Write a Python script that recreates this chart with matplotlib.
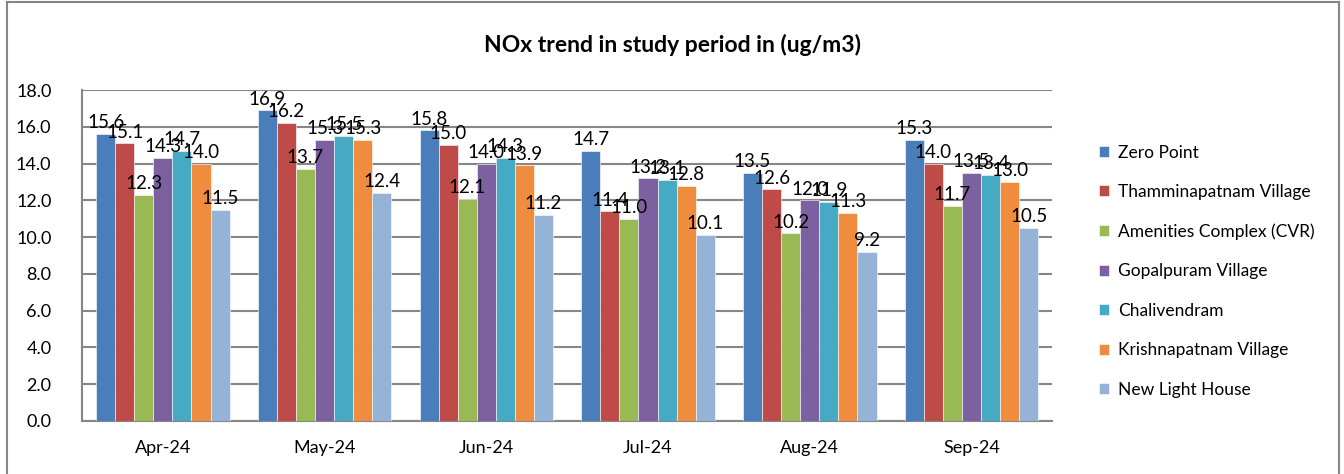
import numpy as np
import matplotlib.pyplot as plt
from matplotlib.lines import Line2D

plt.rcParams['font.family'] = ['Lato', 'DejaVu Sans']

# місяці та станції
months = ["Apr-24", "May-24", "Jun-24", "Jul-24", "Aug-24", "Sep-24"]
stations = ["Zero Point", "Thamminapatnam Village", "Amenities Complex (CVR)",
            "Gopalpuram Village", "Chalivendram", "Krishnapatnam Village",
            "New Light House"]

zero_point = [15.6, 16.9, 15.8, 14.7, 13.5, 15.3]
thamminapatnam = [15.1, 16.2, 15.0, 11.4, 12.6, 14.0]
amenities = [12.3, 13.7, 12.1, 11.0, 10.2, 11.7]
gopalpuram = [14.3, 15.3, 14.0, 13.2, 12.0, 13.5]
chalivendram = [14.7, 15.5, 14.3, 13.1, 11.9, 13.4]
krishnapatnam = [14.0, 15.3, 13.9, 12.8, 11.3, 13.0]
new_light_house = [11.5, 12.4, 11.2, 10.1, 9.2, 10.5]

series = [zero_point, thamminapatnam, amenities, gopalpuram,
          chalivendram, krishnapatnam, new_light_house]
colors = ['#4A7EBB', '#BE4B48', '#98B954', '#7D60A0', '#46AAC5', '#F08C3E', '#95B3D7']

fig = plt.figure(figsize=(13.44, 4.74), dpi=100)
ax = fig.add_axes([0.061, 0.112, 0.722, 0.698])

x = np.arange(len(months))
w = 0.118
for j, (vals, col, name) in enumerate(zip(series, colors, stations)):
    bars = ax.bar(x + (j - 3) * w, vals, width=w, color=col, label=name,
                  edgecolor='white', linewidth=0.4, zorder=3)
    for b, v in zip(bars, vals):
        ax.annotate(f"{v:.1f}", (b.get_x() + b.get_width() / 2, v),
                    xytext=(0, 2), textcoords='offset points',
                    ha='center', va='bottom', fontsize=13.5, zorder=4)

ax.set_xlim(-0.5, len(months) - 0.5)
ax.set_ylim(0, 18)
ax.set_yticks(np.arange(0, 19, 2))
ax.set_yticklabels([f"{t:.1f}" for t in np.arange(0, 19, 2)], fontsize=13)
ax.set_xticks(x)
ax.set_xticklabels(months, fontsize=13)
ax.tick_params(length=0)
ax.tick_params(axis='x', pad=14)
ax.tick_params(axis='y', pad=22)
ax.grid(axis='y', color='#868686', linewidth=1.5, zorder=0)
for s in ['top', 'right']:
    ax.spines[s].set_visible(False)
for s in ['left', 'bottom']:
    ax.spines[s].set_color('#868686')
    ax.spines[s].set_linewidth(1.5)

fig.text(0.5, 0.905, "NOx trend in study period in (ug/m3)", ha='center',
         va='center', fontsize=16.5, fontweight='bold')

fig.legend(loc='upper left', bbox_to_anchor=(0.806, 0.728), frameon=False,
           fontsize=12.5, labelspacing=1.35, handlelength=0.6, handleheight=0.6,
           handletextpad=0.5)

# рамка навколо діаграми
fig.add_artist(Line2D([0.005, 0.005], [0, 0.996], color='#868686', lw=1.5))
fig.add_artist(Line2D([0.005, 0.996], [0.996, 0.996], color='#868686', lw=1.5))
fig.add_artist(Line2D([0.996, 0.996], [0, 0.996], color='#868686', lw=1.5))

fig.savefig("out.png", dpi=100)
